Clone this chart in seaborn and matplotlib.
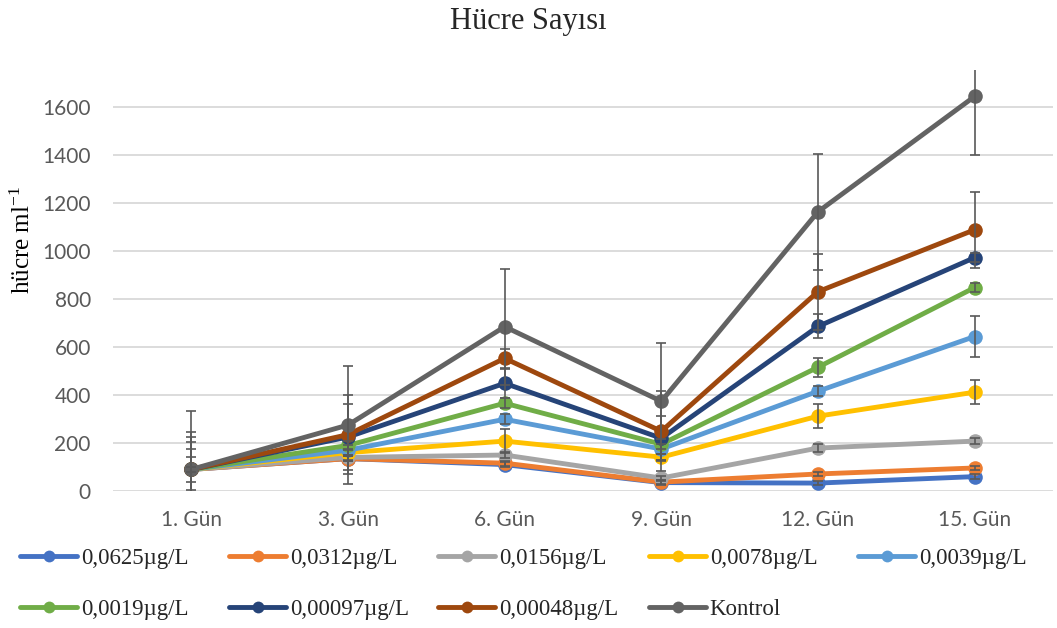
import numpy as np
import pandas as pd
import matplotlib
matplotlib.use("Agg")
import matplotlib.pyplot as plt
from matplotlib.lines import Line2D
import seaborn as sns

days = ["1. Gün", "3. Gün", "6. Gün", "9. Gün", "12. Gün", "15. Gün"]
series = ["0,0625µg/L", "0,0312µg/L", "0,0156µg/L", "0,0078µg/L", "0,0039µg/L",
          "0,0019µg/L", "0,00097µg/L", "0,00048µg/L", "Kontrol"]
colors = ["#4472C4", "#ED7D31", "#A5A5A5", "#FFC000", "#5B9BD5",
          "#70AD47", "#264478", "#9E480E", "#636363"]

v_0625 = [90, 135, 110, 35, 33, 60]
v_0312 = [90, 135, 116, 37, 71, 96]
v_0156 = [90, 140, 150, 54, 179, 208]
v_0078 = [90, 160, 208, 141, 312, 412]
v_0039 = [90, 170, 299, 175, 416, 644]
v_0019 = [90, 190, 366, 195, 516, 848]
v_00097 = [90, 225, 449, 220, 686, 973]
v_00048 = [90, 235, 553, 249, 831, 1089]
v_kontrol = [90, 275, 685, 374, 1164, 1645]

e_0625 = [10, 10, 10, 8, 8, 10]
e_0312 = [10, 10, 10, 8, 10, 10]
e_0156 = [10, 12, 12, 10, 15, 12]
e_0078 = [51, 15, 50, 15, 50, 50]
e_0039 = [85, 20, 20, 20, 20, 85]
e_0019 = [114, 20, 20, 20, 40, 20]
e_00097 = [134, 136, 60, 92, 50, 20]
e_00048 = [155, 164, 40, 167, 159, 158]
e_kontrol = [243, 245, 242, 245, 241, 245]

values = [v_0625, v_0312, v_0156, v_0078, v_0039, v_0019, v_00097, v_00048, v_kontrol]
errors = [e_0625, e_0312, e_0156, e_0078, e_0039, e_0019, e_00097, e_00048, e_kontrol]

rows = []
for s, vals, errs in zip(series, values, errors):
    for i, (d, v, e) in enumerate(zip(days, vals, errs)):
        rows.append({"series": s, "day": d, "pos": i, "value": v, "err": e})
df = pd.DataFrame(rows)

sns.set_style("white")
plt.rcParams["font.family"] = ["Lato", "DejaVu Sans"]
plt.rcParams["mathtext.default"] = "regular"

fig = plt.figure(figsize=(10.57, 6.28), dpi=100)
ax = fig.add_axes([113 / 1057, 1 - 491 / 628, 940 / 1057, (491 - 70) / 628])

sns.lineplot(data=df, x="pos", y="value", hue="series", hue_order=series,
             palette=colors, marker="o", markersize=10.5, markeredgewidth=0,
             linewidth=3.5, legend=False, ax=ax, zorder=2)

for s in series:
    sub = df[df["series"] == s]
    ax.errorbar(sub["pos"], sub["value"], yerr=sub["err"], fmt="none",
                ecolor="#595959", elinewidth=1.2, capsize=3.8, capthick=1.2,
                zorder=3)

ax.set_xlim(-0.5, 5.5)
ax.set_ylim(0, 1755)
ax.set_yticks(range(0, 1601, 200))
ax.set_xticks(range(len(days)))
ax.set_xticklabels(days)
ax.grid(axis="y", color="#D9D9D9", linewidth=1.3)
ax.grid(axis="x", visible=False)
ax.set_axisbelow(True)
for sp in ax.spines.values():
    sp.set_visible(False)
ax.tick_params(axis="both", length=0, labelsize=15, colors="#595959")
ax.tick_params(axis="y", pad=16)
ax.tick_params(axis="x", pad=14)
ax.set_xlabel("")
ax.set_ylabel("")

fig.text(23 / 1057, 1 - 240 / 628, "hücre ml$^{-1}$", family="Liberation Serif",
         fontsize=18, rotation=90, ha="center", va="center", color="black")

fig.text(0.5, 1 - 21 / 628, "Hücre Sayısı", family="Liberation Serif", fontsize=22,
         ha="center", va="center")

handles = [Line2D([], [], color=c, linewidth=3.5, marker="o", markersize=8.5,
                  markeredgewidth=0) for c in colors]
col_x = [20, 229, 438, 649, 858]
for j, x in enumerate(col_x):
    idx = [k for k in (j, j + 5) if k < len(series)]
    fig.legend([handles[k] for k in idx], [series[k] for k in idx],
               loc="upper left", bbox_to_anchor=(x / 1057, 1 - 548 / 628),
               ncol=1, frameon=False, prop={"family": "Liberation Serif", "size": 16.5},
               handlelength=2.5, handletextpad=0.15,
               labelspacing=1.3, borderpad=0, borderaxespad=0)

fig.savefig("out.png", dpi=100)
